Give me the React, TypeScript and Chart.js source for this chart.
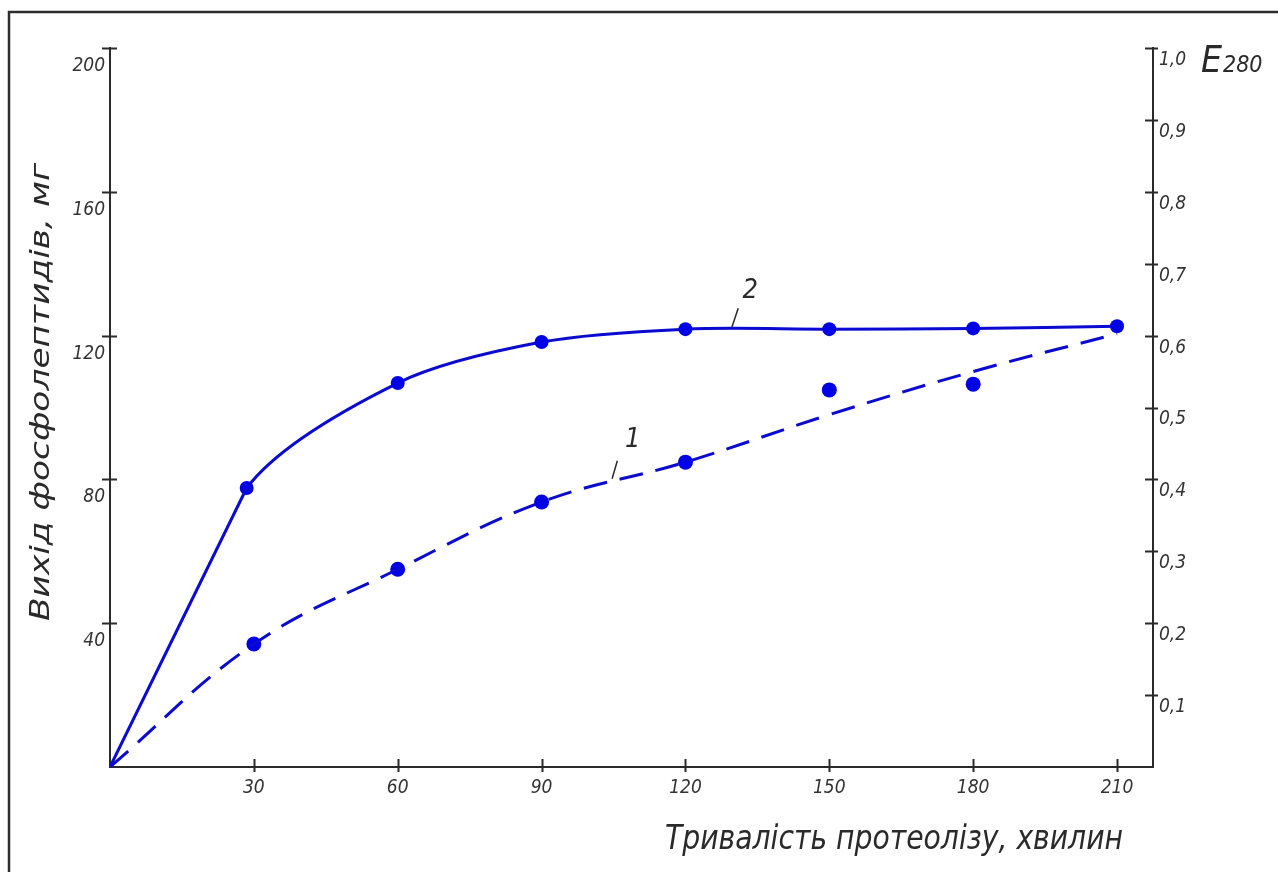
import React, { useEffect, useRef } from "react";
import { Chart, registerables } from "chart.js";

Chart.register(...registerables);

// ---- data ----
const xTickValues = [30, 60, 90, 120, 150, 180, 210];
const yLeftTickValues = [40, 80, 120, 160, 200];
const yRightTickValues = [0.1, 0.2, 0.3, 0.4, 0.5, 0.6, 0.7, 0.8, 0.9, 1.0];

// curve 2 (solid line with markers)
const curve2X = [0, 28.5, 60, 90, 120, 150, 180, 210];
const curve2Y = [0, 77.6, 106.8, 118.2, 121.8, 121.8, 122.0, 122.6];

// curve 1 (dashed fitted line)
const curve1X = [0, 30, 60, 90, 120, 150, 180, 210];
const curve1Y = [0, 34.2, 55.0, 73.7, 84.8, 98.0, 110.0, 120.5];

// curve 1 measured points
const points1X = [30, 60, 90, 120, 150, 180];
const points1Y = [34.2, 55.0, 73.7, 84.8, 104.9, 106.5];

const xTitle = "Тривалість протеолізу, хвилин";
const yTitle = "Вихід фосфолептидів, мг";

const FONT = "'Liberation Sans Narrow', 'DejaVu Sans Condensed', 'Roboto Condensed', 'Liberation Sans', sans-serif";
const LINE = "#0a0ad0";
const MARK = "#0000e6";
const INK = "#2a2a2a";

const decorPlugin = {
  id: "decor",
  afterDraw(chart: any) {
    const ctx = chart.ctx as CanvasRenderingContext2D;
    const x = chart.scales.x;
    const y = chart.scales.y;
    const y2 = chart.scales.y2;
    const ca = chart.chartArea;
    ctx.save();
    // outer frame (left + top)
    ctx.strokeStyle = "#2e2e2e";
    ctx.lineWidth = 2.5;
    ctx.beginPath();
    ctx.moveTo(9, 872);
    ctx.lineTo(9, 12);
    ctx.lineTo(1278, 12);
    ctx.stroke();

    // crossing ticks
    ctx.strokeStyle = INK;
    ctx.lineWidth = 2;
    ctx.beginPath();
    yLeftTickValues.forEach((v) => {
      const p = Math.round(y.getPixelForValue(v)) + 0.5;
      ctx.moveTo(ca.left - 8, p);
      ctx.lineTo(ca.left + 7, p);
    });
    yRightTickValues.forEach((v) => {
      const p = Math.round(y2.getPixelForValue(v)) + 0.5;
      ctx.moveTo(ca.right - 8, p);
      ctx.lineTo(ca.right + 5, p);
    });
    xTickValues.forEach((v) => {
      const p = Math.round(x.getPixelForValue(v)) + 0.5;
      ctx.moveTo(p, ca.bottom - 8);
      ctx.lineTo(p, ca.bottom + 5);
    });
    ctx.stroke();

    // x title
    ctx.fillStyle = INK;
    ctx.textBaseline = "alphabetic";
    ctx.textAlign = "left";
    ctx.font = `italic 34px ${FONT}`;
    {
      const w = ctx.measureText(xTitle).width;
      const target = 458;
      ctx.save();
      ctx.translate(665, 849);
      ctx.scale(target / w, 1);
      ctx.fillText(xTitle, 0, 0);
      ctx.restore();
    }
    // y title (rotated)
    ctx.font = `italic 26px ${FONT}`;
    {
      const w = ctx.measureText(yTitle).width;
      const target = 458;
      ctx.save();
      ctx.translate(49, 621);
      ctx.rotate(-Math.PI / 2);
      ctx.scale(target / w, 1);
      ctx.fillText(yTitle, 0, 0);
      ctx.restore();
    }
    // E280
    ctx.font = `italic 37px ${FONT}`;
    ctx.fillText("E", 1201, 72);
    const ew = ctx.measureText("E").width;
    ctx.font = `italic 23px ${FONT}`;
    ctx.fillText("280", 1201 + ew + 1, 72);

    // curve labels with leaders
    const labels = [
      { t: "2", lx: 133.5, ly: 132.5, a: [129.7, 122.4], b: [131.0, 127.6] },
      { t: "1", lx: 109.0, ly: 91.0, a: [104.7, 80.2], b: [105.8, 85.2] },
    ];
    ctx.font = `italic 27px ${FONT}`;
    ctx.textAlign = "center";
    ctx.textBaseline = "middle";
    ctx.lineWidth = 1.5;
    labels.forEach((l) => {
      ctx.fillText(l.t, x.getPixelForValue(l.lx), y.getPixelForValue(l.ly));
      ctx.beginPath();
      ctx.moveTo(x.getPixelForValue(l.a[0]), y.getPixelForValue(l.a[1]));
      ctx.lineTo(x.getPixelForValue(l.b[0]), y.getPixelForValue(l.b[1]));
      ctx.stroke();
    });
    ctx.restore();
  },
};

export default function App() {
  const ref = useRef<HTMLCanvasElement>(null);
  useEffect(() => {
    const tickFont = { family: FONT, size: 19, style: "italic" as const };
    const curve2Pts = curve2X.map((v, i) => ({ x: v, y: curve2Y[i] }));
    const chart = new Chart(ref.current!, {
      type: "line",
      data: {
        datasets: [
          {
            label: "2 (start)",
            data: curve2Pts.slice(0, 2),
            borderColor: LINE,
            borderWidth: 3,
            pointRadius: 0,
            tension: 0,
            yAxisID: "y",
          },
          {
            label: "2",
            data: curve2Pts,
            borderColor: LINE,
            backgroundColor: MARK,
            borderWidth: 3,
            pointRadius: curve2Pts.map((_, i) => (i === 0 ? 0 : 7)),
            pointBorderWidth: 0,
            pointBackgroundColor: MARK,
            tension: 0.3,
            segment: {
              borderColor: (c: any) => (c.p0DataIndex === 0 ? "rgba(0,0,0,0)" : LINE),
            },
            yAxisID: "y",
          },
          {
            label: "1",
            data: curve1X.map((v, i) => ({ x: v, y: curve1Y[i] })),
            borderColor: LINE,
            borderWidth: 3,
            borderDash: [24, 13],
            pointRadius: 0,
            tension: 0.4,
            yAxisID: "y",
          },
          {
            label: "1 points",
            data: points1X.map((v, i) => ({ x: v, y: points1Y[i] })),
            showLine: false,
            borderColor: MARK,
            backgroundColor: MARK,
            pointRadius: 7.5,
            pointBorderWidth: 0,
            pointBackgroundColor: MARK,
            yAxisID: "y",
          },
        ],
      },
      options: {
        responsive: false,
        animation: false,
        devicePixelRatio: 1,
        layout: { padding: { top: 48, left: 0, right: 0, bottom: 0 } },
        plugins: { legend: { display: false }, tooltip: { enabled: false } },
        scales: {
          x: {
            type: "linear",
            position: "bottom",
            min: 0,
            max: 217.5,
            afterBuildTicks: (a: any) => {
              a.ticks = xTickValues.map((v) => ({ value: v }));
            },
            afterFit: (s: any) => {
              s.height = 105;
            },
            grid: { display: false, drawTicks: false },
            border: { display: true, color: INK, width: 2 },
            ticks: {
              font: tickFont,
              color: "#333",
              padding: 10,
              maxRotation: 0,
              callback: (v: any) => String(v),
            },
          },
          y: {
            type: "linear",
            position: "left",
            min: 0,
            max: 200,
            afterBuildTicks: (a: any) => {
              a.ticks = yLeftTickValues.map((v) => ({ value: v }));
            },
            afterFit: (s: any) => {
              s.width = 110;
            },
            grid: { display: false, drawTicks: false },
            border: { display: true, color: INK, width: 2 },
            ticks: {
              font: tickFont,
              color: "#333",
              padding: 5,
              labelOffset: 18,
              callback: (v: any) => String(v),
            },
          },
          y2: {
            type: "linear",
            position: "right",
            min: 0,
            max: 1.0,
            afterBuildTicks: (a: any) => {
              a.ticks = yRightTickValues.map((v) => ({ value: v }));
            },
            afterFit: (s: any) => {
              s.width = 125;
            },
            grid: { display: false, drawTicks: false },
            border: { display: true, color: INK, width: 2 },
            ticks: {
              font: tickFont,
              color: "#333",
              padding: 6,
              labelOffset: 12,
              callback: (v: any) => Number(v).toFixed(1).replace(".", ","),
            },
          },
        },
      },
      plugins: [decorPlugin],
    } as any);
    return () => chart.destroy();
  }, []);
  return (
    <canvas
      ref={ref}
      width={1278}
      height={872}
      style={{ position: "absolute", left: 0, top: 0, width: 1278, height: 872, background: "#fff" }}
    />
  );
}
